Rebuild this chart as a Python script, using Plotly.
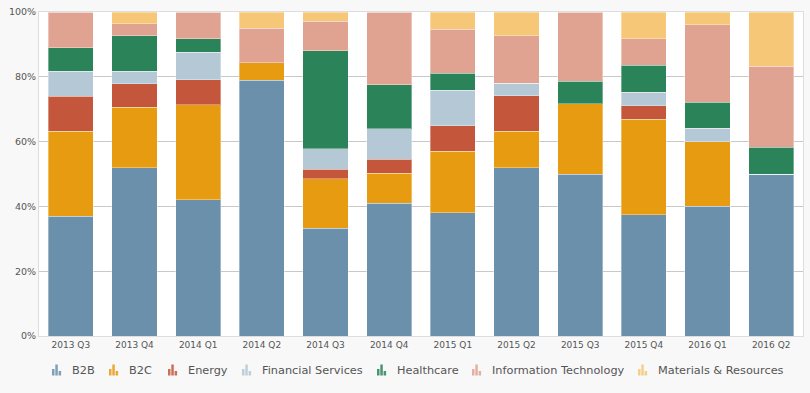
import plotly.graph_objects as go

quarters = ["2013 Q3", "2013 Q4", "2014 Q1", "2014 Q2", "2014 Q3", "2014 Q4",
            "2015 Q1", "2015 Q2", "2015 Q3", "2015 Q4", "2016 Q1", "2016 Q2"]

b2b        = [37.0, 52.0, 42.0, 79.0, 33.3, 41.0, 38.1, 52.0, 50.0, 37.4, 40.0, 50.0]
b2c        = [26.2, 18.6, 29.3, 5.3, 15.3, 9.3, 18.9, 11.2, 21.7, 29.5, 19.9, 0.0]
energy     = [10.8, 7.2, 7.8, 0.0, 2.9, 4.3, 7.9, 10.9, 0.0, 4.1, 0.0, 0.0]
financial  = [7.7, 3.9, 8.5, 0.0, 6.3, 9.3, 10.9, 3.9, 0.0, 4.3, 4.2, 0.0]
healthcare = [7.2, 11.0, 4.1, 0.0, 30.2, 13.6, 5.3, 0.0, 6.9, 8.3, 8.1, 8.3]
it         = [11.1, 3.6, 8.3, 10.7, 9.2, 22.5, 13.6, 14.6, 21.4, 8.1, 23.9, 25.0]
materials  = [0.0, 3.7, 0.0, 5.0, 2.8, 0.0, 5.3, 7.4, 0.0, 8.3, 3.9, 16.7]

y_ticks = [0, 20, 40, 60, 80, 100]
y_tick_labels = ["0%", "20%", "40%", "60%", "80%", "100%"]

series = [
    ("B2B", b2b, "#6b90ac"),
    ("B2C", b2c, "#e69b10"),
    ("Energy", energy, "#c4573b"),
    ("Financial Services", financial, "#b5c8d5"),
    ("Healthcare", healthcare, "#2b8359"),
    ("Information Technology", it, "#e0a391"),
    ("Materials & Resources", materials, "#f5c776"),
]

W, H = 810, 393
ML, MR, MT, MB = 39, 7, 12, 57
PW, PH = W - ML - MR, H - MT - MB

fig = go.Figure()
for name, vals, color in series:
    fig.add_trace(go.Bar(
        name=name, x=quarters, y=vals, showlegend=False,
        marker=dict(color=color, line=dict(color="rgba(255,255,255,0.35)", width=1)),
    ))

# custom legend (icon + label), left pixel positions of each entry's icon
legend_icon_px = [52, 109, 168, 242, 377, 472, 638]
legend_y_px = 370


def px_x(p):
    return (p - ML) / PW


def px_y(p):
    return (H - MB - p) / PH


shapes = []
annotations = []
for (name, _, color), ix in zip(series, legend_icon_px):
    # bar-chart glyph: three small bars
    for dx, top in ((0, 369), (3.3, 364.5), (6.6, 371)):
        shapes.append(dict(type="rect", xref="paper", yref="paper",
                           x0=px_x(ix + dx), x1=px_x(ix + dx + 2.5),
                           y0=px_y(375.5), y1=px_y(top),
                           fillcolor=color, opacity=0.85, line=dict(width=0)))
    annotations.append(dict(text=name, xref="paper", yref="paper",
                            x=px_x(ix + 18), y=px_y(legend_y_px),
                            xanchor="left", yanchor="middle", showarrow=False,
                            font=dict(family="DejaVu Sans", size=11.3, color="#555555")))

fig.update_layout(
    barmode="stack",
    bargap=0.293,
    width=W, height=H,
    margin=dict(l=ML, r=MR, t=MT, b=MB),
    paper_bgcolor="#f8f8f8",
    plot_bgcolor="#ffffff",
    font=dict(family="DejaVu Sans", size=10, color="#555555"),
    showlegend=False,
    shapes=shapes,
    annotations=annotations,
    xaxis=dict(showline=True, linecolor="#dddddd", linewidth=1, mirror=True,
               ticks="", tickfont=dict(size=9, color="#555555")),
    yaxis=dict(range=[0, 100], tickvals=y_ticks, ticktext=y_tick_labels,
               showgrid=True, gridcolor="#c8c8c8", gridwidth=1,
               showline=True, linecolor="#dddddd", linewidth=1, mirror=True,
               zeroline=False, tickfont=dict(size=9.5, color="#555555")),
)

fig.write_html(
    "out.html",
    config={"displayModeBar": False},
    post_script="document.body.style.margin='0';document.body.style.background='#f8f8f8';",
)
